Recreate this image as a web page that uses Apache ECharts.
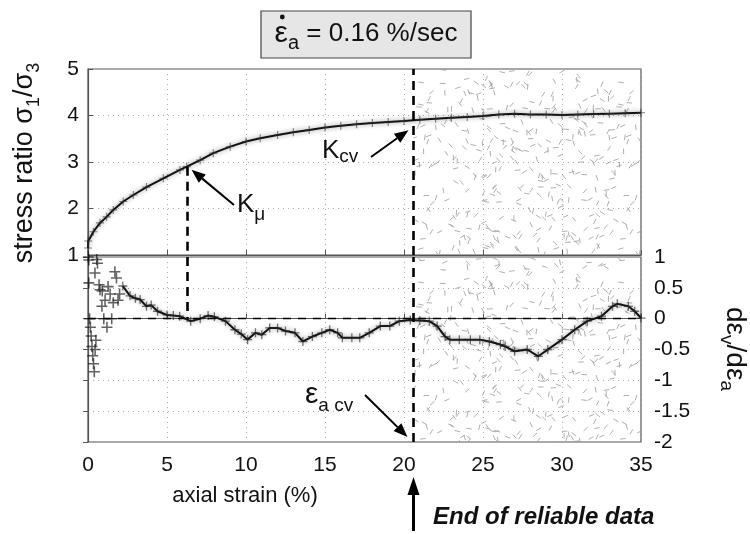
<!DOCTYPE html>
<html>
<head>
<meta charset="utf-8">
<script src="https://cdn.jsdelivr.net/npm/echarts@6/dist/echarts.min.js"></script>
<style>
  html, body { margin: 0; padding: 0; background: #fff; }
  #chart { width: 750px; height: 534px; }
</style>
</head>
<body>
<div id="chart"></div>
<script>
// stress ratio (top panel)
const topStrain = [0, 0.02, 0.34, 0.76, 1.18, 1.6, 2.23, 2.87, 3.7, 4.77, 5.82, 6.25, 7.1, 7.93, 9.0, 10.0, 10.9,
  12, 13, 14, 15, 16, 17, 18, 19, 20, 21, 22, 23, 24, 25, 26, 27, 28, 29, 30, 31, 32, 33, 34, 35];
const topRatio = [1.15, 1.3, 1.5, 1.69, 1.82, 1.97, 2.15, 2.29, 2.46, 2.65, 2.83, 2.9, 3.04, 3.19, 3.33, 3.44, 3.51,
  3.58, 3.64, 3.69, 3.74, 3.78, 3.81, 3.84, 3.86, 3.88, 3.91, 3.93, 3.95, 3.97, 3.99, 4.02, 4.04, 4.02, 4.02, 4.01, 4.02, 4.03, 4.04, 4.05, 4.06];

// dilatancy rate (bottom panel), scattered start
const earlyStrain = [0.02, 0.05, 0.05, 0.1, 0.15, 0.2, 0.25, 0.3, 0.35, 0.4, 0.45, 0.5, 0.55, 0.44, 0.6, 0.7, 0.76, 0.88, 1.0, 1.08,
  1.2, 1.27, 1.4, 1.6, 1.7, 1.8, 2.0, 1.5, 0.9, 1.9];
const earlyRate = [1.0, 0.95, 0.58, 0.0, -0.14, -0.28, -0.45, -0.6, -0.73, -0.86, -0.5, -0.35, 0.96, 0.74, 0.9, 0.55, 0.47, 0.2, 0.0, 0.3,
  -0.14, 0.52, 0.4, 0.26, 0.76, 0.66, 0.4, 0.0, 0.45, 0.3];

// dilatancy rate, continuous part
const dilStrain = [2.2, 2.66, 3.0, 3.3, 3.7, 4.0, 4.4, 5.0, 5.4, 5.8, 6.5, 7.1, 7.6, 8.0, 8.7, 9.3, 9.7, 10.1, 10.6, 11.0,
  11.5, 12.0, 12.5, 13.1, 13.6, 14.2, 14.8, 15.3, 15.8, 16.1, 16.7, 17.2, 17.8, 18.5, 19.1, 19.7, 20.4, 21.0, 21.6, 22.1,
  22.6, 22.9, 23.5, 24.2, 24.8, 25.4, 26.1, 26.4, 27.0, 27.8, 28.5, 29.1, 30.0, 30.8, 31.6, 32.5, 33.2, 33.5, 34.2, 34.6, 35.0];
const dilRate = [0.53, 0.37, 0.33, 0.31, 0.2, 0.22, 0.12, 0.06, 0.05, 0.04, -0.04, 0.0, 0.05, 0.03, -0.04, -0.18, -0.25, -0.34, -0.23, -0.26,
  -0.15, -0.15, -0.2, -0.23, -0.37, -0.29, -0.23, -0.18, -0.23, -0.31, -0.31, -0.31, -0.23, -0.12, -0.12, -0.04, -0.02, -0.03, -0.04, -0.12,
  -0.29, -0.34, -0.34, -0.34, -0.34, -0.37, -0.42, -0.45, -0.53, -0.5, -0.61, -0.5, -0.34, -0.18, -0.04, 0.04, 0.2, 0.24, 0.2, 0.12, 0.01];

const muStrain = 6.3, muRatio = 2.9;   // K_mu
const cvStrain = 20.6;                 // end of reliable data
const xMin = 0, xMax = 35, xStep = 5;

const FONT = "'Liberation Sans', Arial, sans-serif";
const plus = 'path://M-1,-7H1V-1H7V1H1V7H-1V1H-7V-1H-1Z';

// speckled texture for the unreliable zone (seamless tile)
function makeHatch() {
  const N = 200;
  const c = document.createElement('canvas');
  c.width = N; c.height = N;
  const g = c.getContext('2d');
  g.strokeStyle = '#a0a0a0';
  g.lineWidth = 0.85;
  let s = 4242;
  const rnd = () => { s = (s * 16807) % 2147483647; return s / 2147483647; };
  for (let i = 0; i < 380; i++) {
    const x = rnd() * N, y = rnd() * N, a = rnd() * Math.PI, L = 2.8;
    for (let ox = -N; ox <= N; ox += N) {
      for (let oy = -N; oy <= N; oy += N) {
        g.beginPath();
        g.moveTo(x + ox - Math.cos(a) * L, y + oy - Math.sin(a) * L);
        g.lineTo(x + ox + Math.cos(a) * L, y + oy + Math.sin(a) * L);
        g.stroke();
      }
    }
  }
  return c;
}
const hatch = { image: makeHatch(), repeat: 'repeat' };

const chart = echarts.init(document.getElementById('chart'));

const dash = { color: '#000', width: 2.6, type: [9, 6] };
const axisCommon = {
  axisLine: { show: true, lineStyle: { color: '#555', width: 1.2 } },
  axisTick: { show: true, inside: true, length: 5, lineStyle: { color: '#555' } },
  splitLine: { show: true, lineStyle: { color: '#aaa', type: [1, 4], width: 1 } },
  axisLabel: { color: '#111', fontSize: 21, fontFamily: FONT }
};
const band = { color: '#111', width: 2, shadowColor: 'rgba(0,0,0,0.45)', shadowBlur: 5 };

const option = {
  animation: false,
  grid: [
    { left: 88, top: 69, width: 553, height: 186, show: true, borderColor: '#555', borderWidth: 1.2 },
    { left: 88, top: 257, width: 553, height: 185, show: true, borderColor: '#555', borderWidth: 1.2 }
  ],
  xAxis: [
    Object.assign({}, axisCommon, { gridIndex: 0, type: 'value', min: xMin, max: xMax, interval: xStep,
      axisLabel: { show: false } }),
    Object.assign({}, axisCommon, { gridIndex: 1, type: 'value', min: xMin, max: xMax, interval: xStep,
      axisLabel: Object.assign({}, axisCommon.axisLabel, { margin: 13 }) })
  ],
  yAxis: [
    Object.assign({}, axisCommon, { gridIndex: 0, type: 'value', min: 1, max: 5, interval: 1, position: 'left',
      axisLabel: Object.assign({}, axisCommon.axisLabel, { margin: 9 }) }),
    Object.assign({}, axisCommon, { gridIndex: 1, type: 'value', min: -2, max: 1, interval: 0.5, position: 'right',
      axisLabel: Object.assign({}, axisCommon.axisLabel, { margin: 13 }) })
  ],
  series: [
    {
      type: 'line', xAxisIndex: 0, yAxisIndex: 0, z: 3,
      data: topStrain.map((x, i) => [x, topRatio[i]]),
      symbol: plus, symbolSize: 8, showSymbol: true,
      itemStyle: { color: 'rgba(50,50,50,0.6)' },
      lineStyle: band,
      markArea: { silent: true, z: 1, itemStyle: { color: hatch }, data: [[{ xAxis: cvStrain }, { xAxis: xMax }]] },
      markLine: { silent: true, symbol: 'none', label: { show: false }, lineStyle: dash,
        data: [
          { xAxis: cvStrain },
          [{ coord: [muStrain, muRatio] }, { coord: [muStrain, 1] }]
        ] }
    },
    {
      type: 'line', xAxisIndex: 1, yAxisIndex: 1, z: 3,
      data: dilStrain.map((x, i) => [x, dilRate[i]]),
      symbol: plus, symbolSize: 9, showSymbol: true,
      itemStyle: { color: 'rgba(40,40,40,0.65)' },
      lineStyle: band,
      markArea: { silent: true, z: 1, itemStyle: { color: hatch }, data: [[{ xAxis: cvStrain }, { xAxis: xMax }]] },
      markLine: { silent: true, symbol: 'none', label: { show: false }, lineStyle: dash,
        data: [
          { xAxis: cvStrain },
          [{ coord: [muStrain, 1] }, { coord: [muStrain, 0] }],
          { yAxis: 0, lineStyle: { color: '#000', width: 1.3, type: [8, 7] } }
        ] }
    },
    {
      type: 'scatter', xAxisIndex: 1, yAxisIndex: 1, z: 3,
      data: earlyStrain.map((x, i) => [x, earlyRate[i]]),
      symbol: plus, symbolSize: 11,
      itemStyle: { color: 'rgba(10,10,10,0.8)' }
    }
  ]
};
chart.setOption(option);

const mctx = document.createElement('canvas').getContext('2d');
function measure(s, size) {
  mctx.font = size + 'px ' + FONT;
  return mctx.measureText(s).width;
}
function txt(x, y, s, size, extra) {
  return { type: 'text', x: x, y: y, z: 50,
    style: Object.assign({ text: s, fontSize: size, fontFamily: FONT, fill: '#111', textVerticalAlign: 'middle' }, extra || {}) };
}
// a run of text pieces (with sub-scripts), laid out left to right from x0
function run(parts, x0) {
  let cx = x0;
  const out = [];
  parts.forEach(p => {
    out.push(txt(cx, p.dy || 0, p.s, p.size));
    cx += measure(p.s, p.size);
  });
  return out;
}
function runWidth(parts) {
  return parts.reduce((a, p) => a + measure(p.s, p.size), 0);
}
function arrow(x1, y1, x2, y2, w, hl, hw) {
  const a = Math.atan2(y2 - y1, x2 - x1);
  const bx = x2 - Math.cos(a) * hl, by = y2 - Math.sin(a) * hl;
  const nx = -Math.sin(a) * hw / 2, ny = Math.cos(a) * hw / 2;
  return [
    { type: 'line', shape: { x1: x1, y1: y1, x2: bx, y2: by }, style: { stroke: '#000', lineWidth: w }, z: 50 },
    { type: 'polygon', shape: { points: [[x2, y2], [bx + nx, by + ny], [bx - nx, by - ny]] }, style: { fill: '#000' }, z: 50 }
  ];
}
function label(x, y, parts, rotation, centered) {
  const x0 = centered ? -runWidth(parts) / 2 : 0;
  return { type: 'group', x: x, y: y, rotation: rotation || 0, z: 50, children: run(parts, x0) };
}

const p0 = v => chart.convertToPixel({ gridIndex: 0 }, v);
const p1 = v => chart.convertToPixel({ gridIndex: 1 }, v);
const muPt = p0([muStrain, muRatio]);
const cvTop = p0([cvStrain, 3.9]);
const cvBot = p1([cvStrain, -2]);
const cvX = p0([cvStrain, 1])[0];

let els = [];
// title box
els.push({ type: 'rect', shape: { x: 261, y: 11, width: 210, height: 47 }, style: { fill: '#e6e6e6', stroke: '#444', lineWidth: 1.2 }, z: 40 });
const titleParts = [{ s: 'ε', size: 30 }, { s: 'a', size: 20, dy: 9 }, { s: ' = 0.16 %/sec', size: 26 }];
const tx0 = 366 - runWidth(titleParts) / 2;
els.push(label(tx0, 34, titleParts, 0, false));
els.push({ type: 'circle', shape: { cx: tx0 + measure('ε', 30) / 2 + 1, cy: 17, r: 2.4 }, style: { fill: '#111' }, z: 50 });

// y axis titles
els.push(label(25, 163, [{ s: 'stress ratio σ', size: 27 }, { s: '1', size: 18, dy: 9 }, { s: '/σ', size: 27 }, { s: '3', size: 18, dy: 9 }], Math.PI / 2, true));
els.push(label(735, 349, [{ s: 'dε', size: 28 }, { s: 'v', size: 19, dy: 9 }, { s: '/dε', size: 28 }, { s: 'a', size: 19, dy: 9 }], -Math.PI / 2, true));

// x axis title and note
els.push(txt(245, 496, 'axial strain (%)', 22, { textAlign: 'center' }));
els.push(txt(433, 517, 'End of reliable data', 24, { fontWeight: 'bold', fontStyle: 'italic' }));
els = els.concat(arrow(cvX, 531, cvX, 477, 3, 18, 12));

// K_mu
els.push(label(237, 205, [{ s: 'K', size: 26 }, { s: 'μ', size: 19, dy: 10 }], 0, false));
els = els.concat(arrow(234, 205, muPt[0] + 4, muPt[1] + 3, 2, 14, 11));

// K_cv
els.push(label(322, 151, [{ s: 'K', size: 26 }, { s: 'cv', size: 19, dy: 6 }], 0, false));
els = els.concat(arrow(371, 157, cvTop[0] - 5, cvTop[1] + 10, 2, 14, 11));

// eps_a cv
els.push(label(305, 395, [{ s: 'ε', size: 30 }, { s: 'a cv', size: 19, dy: 11 }], 0, false));
els = els.concat(arrow(365, 395, cvBot[0] - 6, cvBot[1] - 5, 2, 14, 11));

chart.setOption({ graphic: { elements: els } });
</script>
</body>
</html>
